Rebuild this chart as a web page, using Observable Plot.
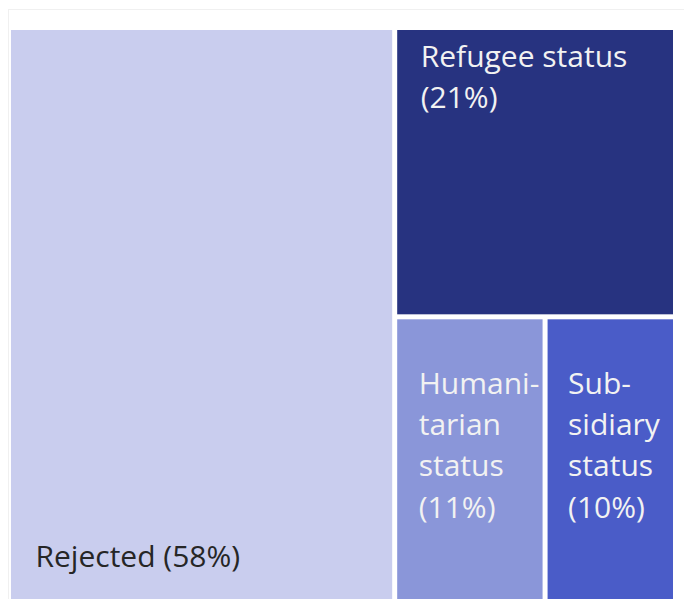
<!DOCTYPE html>
<html>
<head>
<meta charset="utf-8">
<script src="https://cdn.jsdelivr.net/npm/d3@7"></script>
<script src="https://cdn.jsdelivr.net/npm/@observablehq/plot@0.6"></script>
<style>
  html, body { margin: 0; padding: 0; background: #fff; overflow: hidden; }
</style>
</head>
<body>
<div id="chart"></div>
<script>
// ---- data ----
const categories = ["Rejected", "Refugee status", "Humanitarian status", "Subsidiary status"];
const shares = [57.9, 21.0, 11.3, 9.8];           // % of decisions
const parents = ["all", "granted", "complementary", "complementary"];
const groups = ["granted", "complementary"];
const groupParents = ["all", "granted"];
const labelWords = [["Rejected"], ["Refugee status"], ["Humani-", "tarian", "status"], ["Sub-", "sidiary", "status"]];
const colors = ["#c9cdee", "#273380", "#8a96d9", "#4a5cc8"];
const textColors = ["#262626", "#f2f2f2", "#f2f2f2", "#f2f2f2"];

// ---- layout ----
const W = 662, H = 575;
const nodes = [{id: "all", parent: null}]
  .concat(categories.map((c, i) => ({id: c, parent: parents[i], value: shares[i], i})))
  .concat(groups.map((g, i) => ({id: g, parent: groupParents[i]})));
const root = d3.stratify().id(d => d.id).parentId(d => d.parent)(nodes)
  .sum(d => d.value || 0);
d3.treemap().tile(d3.treemapSliceDice).size([W, H]).paddingInner(5).round(false)(root);

const cells = root.leaves().map(n => {
  const i = n.data.i;
  const pct = Math.round(shares[i]);
  const words = labelWords[i];
  const label = i === 0
    ? `${words[0]} (${pct}%)`
    : words.concat([`(${pct}%)`]).join("\n");
  return {name: n.data.id, i, x0: n.x0, x1: n.x1, y0: n.y0, y1: n.y1, label};
});

// label placement inside each cell
function labelPos(c) {
  if (c.i === 0) return {x: c.x0 + 24, y: c.y1 - 68};
  if (c.i === 1) return {x: c.x0 + 23, y: c.y0 + 7};
  return {x: c.x0 + (c.i === 2 ? 21 : 20), y: c.y0 + 44.5};
}
const labels = cells.map(c => ({...c, ...labelPos(c)}));

const chart = Plot.plot({
  width: 684,
  height: 605,
  marginLeft: 11,
  marginRight: 11,
  marginTop: 30,
  marginBottom: 0,
  style: {fontFamily: "'Open Sans', sans-serif", background: "#fff"},
  x: {domain: [0, W], range: [11, 673], axis: null},
  y: {domain: [0, H], range: [30, 605], axis: null},
  color: {domain: categories, range: colors},
  marks: [
    Plot.frame({stroke: "#f0f0f0", insetLeft: -3, insetTop: -21, insetRight: -14, insetBottom: -10}),
    Plot.rect(cells, {x1: "x0", x2: "x1", y1: "y0", y2: "y1", fill: "name"}),
    Plot.text(labels, {
      x: "x", y: "y", text: "label",
      fill: d => textColors[d.i],
      textAnchor: "start",
      lineAnchor: "top",
      lineHeight: 1.38,
      fontSize: 30
    })
  ]
});
document.getElementById("chart").appendChild(chart);
</script>
</body>
</html>
